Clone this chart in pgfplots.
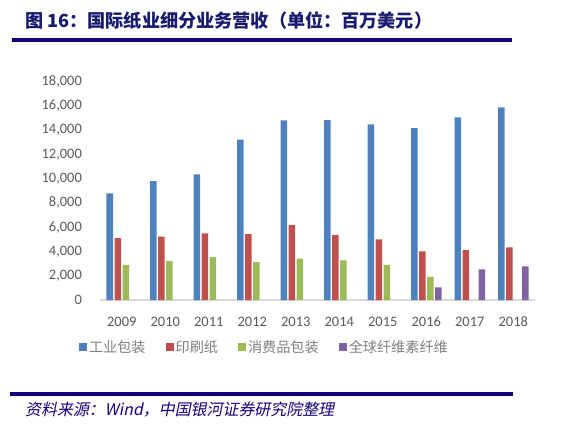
\documentclass[border=0pt]{standalone}
\usepackage{fontspec}
\setmainfont{Carlito}
\newfontfamily\cjk{Noto Sans CJK SC}
\newfontfamily\cjkit[FakeSlant=0.2]{Noto Sans CJK SC}
\usepackage{pgfplots}
\pgfplotsset{compat=1.18}
\definecolor{cblue}{HTML}{4F81BD}
\definecolor{cred}{HTML}{C0504D}
\definecolor{cgreen}{HTML}{9BBB59}
\definecolor{cpurple}{HTML}{8064A2}
\definecolor{navy}{HTML}{14007F}
\definecolor{titlecol}{HTML}{1A1A6E}
\definecolor{tickgray}{HTML}{595959}
\definecolor{leggray}{HTML}{7F7F7F}
\begin{document}
\begin{tikzpicture}
\begin{axis}[
  name=main,
  at={(0pt,0pt)}, anchor=south west,
  scale only axis, width=435bp, height=218.3bp,
  xmin=-0.5, xmax=9.5, ymin=0, ymax=18000,
  ybar=1.5bp, bar width=6.5bp,
  axis x line=bottom, axis y line=left,
  x axis line style={draw=black!15, line width=1.2bp, -},
  y axis line style={draw=none},
  tick style={draw=none},
  xtick={0,...,9},
  xticklabels={2009,2010,2011,2012,2013,2014,2015,2016,2017,2018},
  ytick={0,2000,...,18000},
  scaled y ticks=false,
  /pgf/number format/.cd, 1000 sep={,}, assume math mode=true, /pgfplots/.cd,
  ticklabel style={font=\fontsize{14.5}{16}\selectfont, text=tickgray},
  yticklabel style={xshift=-12.5bp},
  xticklabel style={yshift=-11bp},
  legend style={at={(0.378,-0.215)}, anchor=center, legend columns=4, draw=none,
    font=\cjk\fontsize{14.2}{16}\selectfont, text=leggray,
    /tikz/every even column/.append style={column sep=18bp}},
  legend image code/.code={\fill[#1] (0bp,-4bp) rectangle (8bp,4bp);},
]
\addplot[fill=cblue, draw=none] coordinates {(0,8800) (1,9810) (2,10360) (3,13220) (4,14810) (5,14840) (6,14480) (7,14180) (8,15060) (9,15880)};
\addplot[fill=cred, draw=none] coordinates {(0,5100) (1,5220) (2,5500) (3,5440) (4,6180) (5,5360) (6,5000) (7,4010) (8,4120) (9,4340)};
\addplot[fill=cgreen, draw=none] coordinates {(0,2900) (1,3210) (2,3540) (3,3130) (4,3410) (5,3270) (6,2890) (7,1900)};
\addplot[fill=cpurple, draw=none] coordinates {(7,1040) (8,2530) (9,2780)};
\legend{工业包装,印刷纸,消费品包装,全球纤维素纤维}
\end{axis}
\pgfresetboundingbox
\begin{scope}[shift={(main.south west)}, x=1bp, y=1bp, shift={(-100,-124)}]
\path[use as bounding box] (0,0) rectangle (573,424);
\fill[navy] (12,381.7) rectangle (512,386.5);
\node[anchor=base west, text=titlecol, inner sep=0pt, font=\cjk\bfseries\fontsize{18.2}{20}\selectfont] at (25,397) {图 16：国际纸业细分业务营收（单位：百万美元）};
\fill[navy] (10,28) rectangle (513,32.3);
\node[anchor=base west, text=navy, inner sep=0pt, font=\cjkit\fontsize{16}{18}\selectfont] at (25,8.5) {资料来源：Wind，中国银河证券研究院整理};
\end{scope}
\end{tikzpicture}
\end{document}
